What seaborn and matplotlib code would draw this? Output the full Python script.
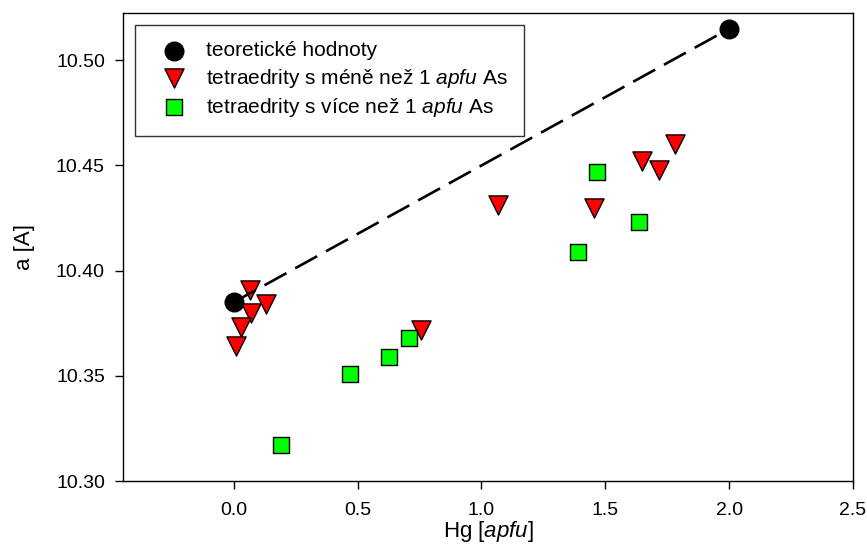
import matplotlib
matplotlib.use("Agg")
import matplotlib.pyplot as plt
import seaborn as sns
import pandas as pd

# ---- data ----
theo_x = [0.0, 2.0]
theo_y = [10.385, 10.515]

low_as_x = [0.064, 0.129, 0.068, 0.028, 0.008, 1.067, 0.757, 1.453, 1.647, 1.715, 1.783]
low_as_y = [10.391, 10.384, 10.380, 10.373, 10.364, 10.431, 10.372, 10.430, 10.452, 10.448, 10.460]

high_as_x = [0.190, 0.468, 0.625, 0.707, 1.388, 1.465, 1.635]
high_as_y = [10.317, 10.351, 10.359, 10.368, 10.409, 10.447, 10.423]

labels = ["teoretické hodnoty",
          "tetraedrity s méně než 1 $\\it{apfu}$ As",
          "tetraedrity s více než 1 $\\it{apfu}$ As"]
x_ticks = [0.0, 0.5, 1.0, 1.5, 2.0, 2.5]
y_ticks = [10.30, 10.35, 10.40, 10.45, 10.50]

sns.set_style("ticks")
plt.rcParams["font.family"] = ["Liberation Sans", "DejaVu Sans"]
plt.rcParams["mathtext.fontset"] = "custom"
plt.rcParams["mathtext.rm"] = "Liberation Sans"
plt.rcParams["mathtext.it"] = "Liberation Sans:italic"
plt.rcParams["text.color"] = "black"
plt.rcParams["axes.labelcolor"] = "black"

fig = plt.figure(figsize=(8.67, 5.46), dpi=100)
ax = fig.add_axes([0.1419, 0.119, 0.842, 0.8572])

df_t = pd.DataFrame({"x": theo_x, "y": theo_y})
df_l = pd.DataFrame({"x": low_as_x, "y": low_as_y})
df_h = pd.DataFrame({"x": high_as_x, "y": high_as_y})

sns.lineplot(data=df_t, x="x", y="y", ax=ax, color="black", lw=1.9,
             linestyle=(0, (9.5, 3.8)), zorder=3, legend=False)
sns.scatterplot(data=df_l, x="x", y="y", ax=ax, marker="v", s=190,
                color="#ff0000", edgecolor="black", linewidth=1.0, zorder=2,
                label=labels[1])
sns.scatterplot(data=df_h, x="x", y="y", ax=ax, marker="s", s=125,
                color="#00ff00", edgecolor="black", linewidth=1.0, zorder=2,
                label=labels[2])
sns.scatterplot(data=df_t, x="x", y="y", ax=ax, marker="o", s=180,
                color="black", edgecolor="black", linewidth=1.0, zorder=4,
                label=labels[0])

ax.set_xlim(-0.447, 2.5)
ax.set_ylim(10.30, 10.5225)
ax.set_xticks(x_ticks)
ax.set_xticklabels([f"{v:.1f}" for v in x_ticks])
ax.set_yticks(y_ticks)
ax.set_yticklabels([f"{v:.2f}" for v in y_ticks])
ax.tick_params(axis="both", direction="out", length=6, width=1.0,
               labelsize=14, colors="black", top=False, right=False)
ax.tick_params(axis="x", pad=9)
ax.tick_params(axis="y", pad=7)
for s in ax.spines.values():
    s.set_visible(True)
    s.set_linewidth(1.0)
    s.set_color("black")

ax.set_xlabel("Hg [$\\it{apfu}$]", fontsize=16, labelpad=0)
ax.set_ylabel("a [A]", fontsize=16, labelpad=15)

h, l = ax.get_legend_handles_labels()
hmap = dict(zip(l, h))
leg = ax.legend([hmap[k] for k in labels], labels, loc="upper left",
                bbox_to_anchor=(0.0165, 0.975), frameon=True, fancybox=False,
                edgecolor="black", fontsize=15, borderpad=0.8,
                handletextpad=0.5, labelspacing=0.3, borderaxespad=0.0,
                handlelength=2.1)
leg.get_frame().set_linewidth(1.0)

fig.savefig("out.png", dpi=100)
